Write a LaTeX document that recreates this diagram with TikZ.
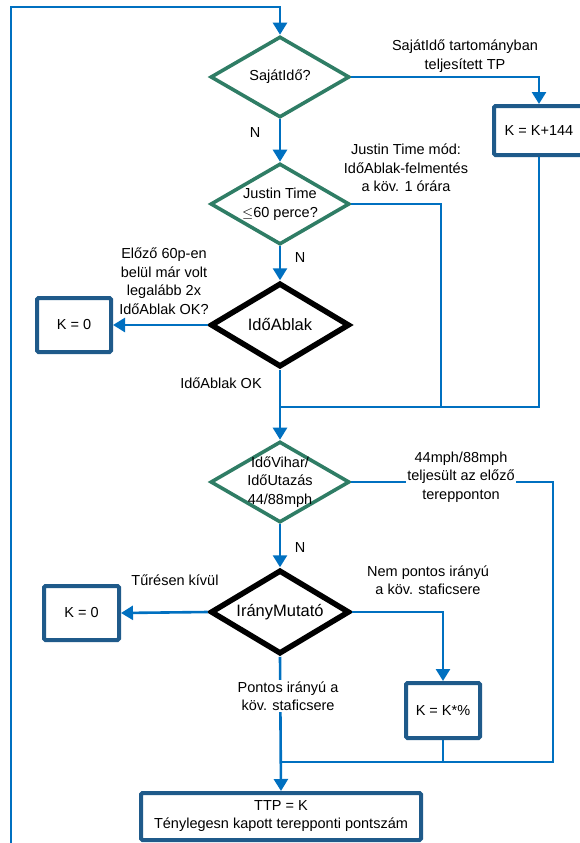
\documentclass[tikz,border=0pt]{standalone}
\usepackage{fontspec}
\setmainfont{Liberation Sans}
\usetikzlibrary{shapes.geometric,arrows.meta,calc}
\definecolor{lineblue}{HTML}{0070C0}
\definecolor{dgreen}{HTML}{2F7D65}
\definecolor{boxblue}{HTML}{1F5A8A}
\tikzset{
  x=1pt, y=-1pt,
  txt/.style={font=\fontsize{14.5}{18.5}\selectfont, align=center, inner sep=1pt},
  big/.style={txt, font=\fontsize{16.5}{19}\selectfont},
  gdia/.style={diamond, draw=dgreen, line width=3.6pt, minimum width=139pt, minimum height=81pt, aspect=1.72, inner sep=0pt},
  bdia/.style={diamond, draw=black, line width=5.5pt, minimum width=139pt, minimum height=84pt, aspect=1.66, inner sep=0pt},
  bbox/.style={rectangle, draw=boxblue, line width=4pt, rounded corners=1.5pt, fill=white, font=\fontsize{14.5}{18.5}\selectfont, align=center},
  conn/.style={draw=lineblue, line width=2.6pt},
  arr/.style={conn, -{Triangle[length=12pt,width=14pt]}},
  cover/.style={txt, fill=white, inner sep=1pt},
}
\begin{document}
\begin{tikzpicture}
\useasboundingbox (0,0) rectangle (579,843);
% coordinates
\coordinate (top) at (0,7);
\coordinate (loopbot) at (11,846);
\coordinate (m1) at (280,407);
\coordinate (m1b) at (441,407);
\coordinate (m2) at (280,762);
\coordinate (m2r) at (553,762);
% decisions
\node[gdia, label={[txt]center:SajátIdő?}] (d1) at (280,77) {};
\node[gdia, label={[txt]center:{Justin Time\\$\leq$60 perce?}}] (d2) at (280,204) {};
\node[bdia, label={[big]center:IdőAblak}] (d3) at (280,325) {};
\node[gdia, label={[txt]center:{IdőVihar/\\IdőUtazás\\44/88mph}}] (d4) at (280,482) {};
\node[bdia, label={[big]center:IrányMutató}] (d5) at (280,612) {};
% boxes
\node[bbox, minimum width=90pt, minimum height=49pt] (k144) at (539,130.5) {K = K+144};
\node[bbox, minimum width=74pt, minimum height=54pt] (k0a) at (74,325) {K = 0};
\node[bbox, minimum width=75pt, minimum height=54pt] (k0b) at (81.5,613) {K = 0};
\node[bbox, minimum width=74pt, minimum height=55pt] (kpct) at (443,710.5) {K = K*\%};
\node[bbox, minimum width=280pt, minimum height=47pt, inner sep=1pt, font=\fontsize{14.5}{18}\selectfont] (ttp) at (281,816.5) {TTP = K\\Ténylegesn kapott terepponti pontszám};
% connectors
\draw[arr] (loopbot) |- (d1.north |- top) -- (d1.north);
\draw[arr] (d1.east) -| (k144.north);
\draw[arr] (d1.south) -- (d2.north);
\draw[conn] (d2.east) -| (m1b);
\draw[conn] (k144.south) |- (m1);
\draw[arr] (d2.south) -- (d3.north);
\draw[arr] (d3.west) -- (k0a.east);
\draw[arr] (d3.south) -- (d4.north);
\draw[conn] (d4.east) -| (m2r) -- (m2);
\draw[arr] (d4.south) -- (d5.north);
\draw[arr] (d5.west) -- (k0b.east);
\draw[arr] (d5.east) -| (kpct.north);
\draw[conn] (kpct.south) |- (m2);
\draw[arr] (d5.south) -- (ttp.north);
% labels
\node[txt] (l1) at (465,56) {SajátIdő tartományban\\teljesített TP};
\node[txt] (n1) at (255,133) {N};
\node[txt] (l2) at (406,168) {Justin Time mód:\\IdőAblak-felmentés\\a köv. 1 órára};
\node[txt] (n2) at (300,258) {N};
\node[txt] (l3) at (164,281) {Előző 60p-en\\belül már volt\\legalább 2x\\IdőAblak OK?};
\node[txt] (l4) at (221,383) {IdőAblak OK};
\node[cover] (l5) at (461,477) {44mph/88mph\\teljesült az előző\\terepponton};
\node[txt] (n3) at (300,548) {N};
\node[txt] (l6) at (175,580) {Tűrésen kívül};
\node[txt] (l7) at (428,580) {Nem pontos irányú\\a köv. staficsere};
\node[cover] (l8) at (288,696) {Pontos irányú a\\köv. staficsere};
\end{tikzpicture}
\end{document}
